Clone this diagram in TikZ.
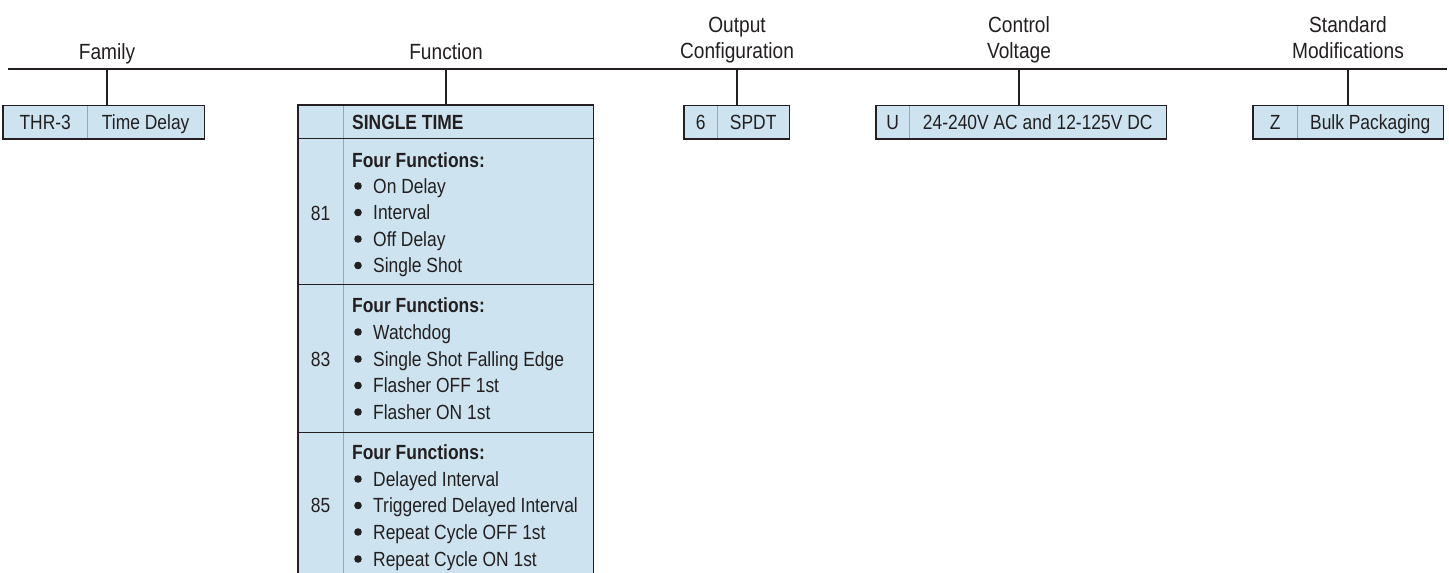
\documentclass[tikz,border=0pt]{standalone}
\usepackage{fontspec}
\setmainfont{Liberation Sans}[FakeStretch=0.85]
\newfontfamily\headfont{Liberation Sans}[FakeStretch=0.87]
\definecolor{boxfill}{HTML}{CDE4F0}
\definecolor{ink}{HTML}{231F20}
\definecolor{divgray}{HTML}{A0A4A8}
\tikzset{
  cell/.style={fill=boxfill, inner sep=0pt, anchor=north west, minimum height=33pt,
     text height=15pt, text depth=0pt, font=\fontsize{20.5}{24}\selectfont, text=ink},
  fcell/.style={fill=boxfill, inner sep=0pt, anchor=north west},
  head/.style={font=\headfont\fontsize{22}{26}\selectfont, text=ink, anchor=base, inner sep=0pt},
  ftext/.style={font=\fontsize{20.5}{24}\selectfont, text=ink, anchor=base west, inner sep=0pt},
  fbold/.style={ftext, font=\bfseries\fontsize{20.5}{24}\selectfont},
  border/.style={draw=ink, line width=1.6pt},
  divider/.style={draw=divgray, line width=0.9pt},
  mainline/.style={draw=ink, line width=2.6pt},
  conn/.style={draw=ink, line width=1.8pt},
  bul/.style={fill=ink},
}
\begin{document}
\begin{tikzpicture}[x=1pt,y=-1pt]
\useasboundingbox (0,0) rectangle (1449,573);

% main line
\coordinate (mL) at (8,69);
\coordinate (mR) at (1447,69);
\draw[mainline] (mL) -- (mR);

% headings
\node[head] (hFam) at (107,59) {Family};
\node[head] (hFun) at (446,59) {Function};
\node[head] (hOut1) at (737,32) {Output};
\node[head] (hOut2) at (737,58) {Configuration};
\node[head] (hCtl1) at (1019,32) {Control};
\node[head] (hCtl2) at (1019,58) {Voltage};
\node[head] (hStd1) at (1348,32) {Standard};
\node[head] (hStd2) at (1348,58) {Modifications};

\coordinate (jFam) at (107,69);
\coordinate (jFun) at (446,69);
\coordinate (jOut) at (737,69);
\coordinate (jCtl) at (1019,69);
\coordinate (jStd) at (1348,69);

% Family box
\node[cell, minimum width=84pt] (famA) at (3,105.5) {THR-3};
\node[cell, minimum width=117pt] (famB) at (87,105.5) {Time Delay};
\draw[divider] (famA.north east) -- (famA.south east);
\draw[border] (famA.north west) rectangle (famB.south east);

% Output box
\node[cell, minimum width=33pt] (outA) at (684,105.5) {6};
\node[cell, minimum width=72pt] (outB) at (717,105.5) {SPDT};
\draw[divider] (outA.north east) -- (outA.south east);
\draw[border] (outA.north west) rectangle (outB.south east);

% Control voltage box
\node[cell, minimum width=33pt] (ctlA) at (876,105.5) {U};
\node[cell, minimum width=257pt] (ctlB) at (909,105.5) {24-240V AC and 12-125V DC};
\draw[divider] (ctlA.north east) -- (ctlA.south east);
\draw[border] (ctlA.north west) rectangle (ctlB.south east);

% Standard modifications box
\node[cell, minimum width=44pt] (stdA) at (1253,105.5) {Z};
\node[cell, minimum width=146pt] (stdB) at (1297,105.5) {Bulk Packaging};
\draw[divider] (stdA.north east) -- (stdA.south east);
\draw[border] (stdA.north west) rectangle (stdB.south east);

% Function box cells
\node[fcell, minimum width=45pt, minimum height=33pt] (fn0a) at (298,105) {};
\node[fcell, minimum width=250pt, minimum height=33pt] (fn0b) at (343,105) {};
\node[fcell, minimum width=45pt, minimum height=146pt] (fn1a) at (298,138) {};
\node[fcell, minimum width=250pt, minimum height=146pt] (fn1b) at (343,138) {};
\node[fcell, minimum width=45pt, minimum height=148pt] (fn2a) at (298,284) {};
\node[fcell, minimum width=250pt, minimum height=148pt] (fn2b) at (343,284) {};
\node[fcell, minimum width=45pt, minimum height=145pt] (fn3a) at (298,432) {};
\node[fcell, minimum width=250pt, minimum height=145pt] (fn3b) at (343,432) {};

\draw[divider] (fn0a.north east) -- (fn3a.south east);
\draw[border] (fn3a.south west) -- (fn0a.north west) -- (fn0b.north east) -- (fn3b.south east);
\draw[border] (fn0a.south west) -- (fn0b.south east);
\draw[border] (fn1a.south west) -- (fn1b.south east);
\draw[border] (fn2a.south west) -- (fn2b.south east);

% Function texts
\node[fbold] (tSingle) at (352,129) {SINGLE TIME};

\node[ftext, anchor=base] (n81) at (320.5,220) {81};
\node[fbold] (t81h) at (352,167) {Four Functions:};
\node[ftext] (t81a) at (373,193) {On Delay};
\node[ftext] (t81b) at (373,219.5) {Interval};
\node[ftext] (t81c) at (373,246) {Off Delay};
\node[ftext] (t81d) at (373,272.5) {Single Shot};

\node[ftext, anchor=base] (n83) at (320.5,366) {83};
\node[fbold] (t83h) at (352,312.5) {Four Functions:};
\node[ftext] (t83a) at (373,339) {Watchdog};
\node[ftext] (t83b) at (373,366) {Single Shot Falling Edge};
\node[ftext] (t83c) at (373,392.5) {Flasher OFF 1st};
\node[ftext] (t83d) at (373,419) {Flasher ON 1st};

\node[ftext, anchor=base] (n85) at (320.5,512) {85};
\node[fbold] (t85h) at (352,459) {Four Functions:};
\node[ftext] (t85a) at (373,486) {Delayed Interval};
\node[ftext] (t85b) at (373,512.5) {Triggered Delayed Interval};
\node[ftext] (t85c) at (373,539) {Repeat Cycle OFF 1st};
\node[ftext] (t85d) at (373,566) {Repeat Cycle ON 1st};

\foreach \t in {t81a,t81b,t81c,t81d,t83a,t83b,t83c,t83d,t85a,t85b,t85c,t85d}{
  \fill[bul] ([xshift=-15pt,yshift=7pt]\t.base west) circle (3.8pt);
}

% connectors
\draw[conn] (jFam) -- (jFam |- famA.north);
\draw[conn] (jFun) -- (jFun |- fn0b.north);
\draw[conn] (jOut) -- (jOut |- outB.north);
\draw[conn] (jCtl) -- (jCtl |- ctlB.north);
\draw[conn] (jStd) -- (jStd |- stdB.north);
\end{tikzpicture}
\end{document}
